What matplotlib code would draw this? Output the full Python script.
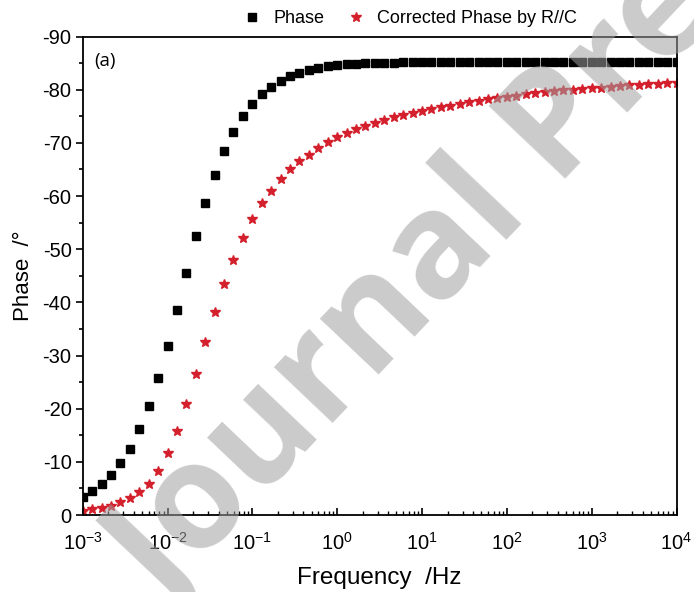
import numpy as np
import matplotlib
matplotlib.use("Agg")
import matplotlib.pyplot as plt
from matplotlib.ticker import MultipleLocator, LogLocator, NullFormatter

plt.rcParams['font.family'] = ['Liberation Sans', 'DejaVu Sans']
plt.rcParams['mathtext.default'] = 'regular'

# frequency points (Hz), about 9 per decade
freq = [1.00e-3, 1.29e-3, 1.67e-3, 2.15e-3, 2.78e-3, 3.59e-3, 4.64e-3, 5.99e-3, 7.74e-3,
        1.00e-2, 1.29e-2, 1.67e-2, 2.15e-2, 2.78e-2, 3.59e-2, 4.64e-2, 5.99e-2, 7.74e-2,
        1.00e-1, 1.29e-1, 1.67e-1, 2.15e-1, 2.78e-1, 3.59e-1, 4.64e-1, 5.99e-1, 7.74e-1,
        1.00e0, 1.29e0, 1.67e0, 2.15e0, 2.78e0, 3.59e0, 4.64e0, 5.99e0, 7.74e0,
        1.00e1, 1.29e1, 1.67e1, 2.15e1, 2.78e1, 3.59e1, 4.64e1, 5.99e1, 7.74e1,
        1.00e2, 1.29e2, 1.67e2, 2.15e2, 2.78e2, 3.59e2, 4.64e2, 5.99e2, 7.74e2,
        1.00e3, 1.29e3, 1.67e3, 2.15e3, 2.78e3, 3.59e3, 4.64e3, 5.99e3, 7.74e3,
        1.00e4]

# measured phase (deg)
phase = [-3.4, -4.6, -5.8, -7.5, -9.8, -12.5, -16.2, -20.5, -25.8,
         -31.8, -38.5, -45.5, -52.4, -58.6, -63.9, -68.5, -72.0, -75.0,
         -77.4, -79.2, -80.6, -81.7, -82.6, -83.2, -83.7, -84.1, -84.4,
         -84.7, -84.8, -84.9, -85.0, -85.05, -85.1, -85.1, -85.15, -85.2,
         -85.2, -85.2, -85.25, -85.25, -85.25, -85.3, -85.3, -85.3, -85.3,
         -85.3, -85.3, -85.3, -85.3, -85.3, -85.3, -85.3, -85.3, -85.3,
         -85.3, -85.3, -85.3, -85.3, -85.3, -85.3, -85.3, -85.3, -85.3,
         -85.3]

# phase corrected by R//C (deg)
phase_corr = [-0.75, -1.1, -1.4, -1.75, -2.4, -3.2, -4.3, -5.8, -8.3,
              -11.6, -15.8, -20.9, -26.6, -32.6, -38.2, -43.5, -48.0, -52.2,
              -55.6, -58.6, -60.9, -63.2, -65.1, -66.5, -67.8, -69.1, -70.1,
              -71.1, -71.9, -72.6, -73.2, -73.8, -74.3, -74.8, -75.2, -75.6,
              -76.0, -76.4, -76.7, -77.0, -77.3, -77.6, -77.9, -78.2, -78.4,
              -78.7, -78.9, -79.1, -79.3, -79.5, -79.7, -79.9, -80.0, -80.2,
              -80.3, -80.4, -80.55, -80.7, -80.8, -80.9, -81.0, -81.1, -81.2,
              -81.3]

fig = plt.figure(figsize=(6.94, 5.92), dpi=100)
ax = fig.add_axes([0.1192, 0.130, 0.8556, 0.8083])

ax.plot(freq, phase, 's', color='black', markersize=5.6, label='Phase')
ax.plot(freq, phase_corr, '*', color='#d4202c', markersize=7.5, label='Corrected Phase by R//C')

ax.set_xscale('log')
ax.set_xlim(1e-3, 1e4)
ax.set_ylim(0, -90)

ax.yaxis.set_minor_locator(MultipleLocator(5))
ax.set_yticks(np.arange(0, -91, -10))
ax.set_yticklabels([str(int(v)) for v in np.arange(0, -91, -10)])
ax.xaxis.set_major_locator(LogLocator(base=10, numticks=20))
ax.xaxis.set_minor_locator(LogLocator(base=10, subs=np.arange(2, 10), numticks=20))
ax.xaxis.set_minor_formatter(NullFormatter())

ax.tick_params(axis='y', which='major', direction='out', length=5, width=1.2, labelsize=14.5, pad=3)
ax.tick_params(axis='y', which='minor', direction='out', length=3, width=1.2)
ax.tick_params(axis='x', which='major', direction='in', length=5, width=1.2, labelsize=14.5, pad=12)
ax.tick_params(axis='x', which='minor', direction='in', length=3, width=1.0)
for s in ax.spines.values():
    s.set_linewidth(1.3)

ax.set_xlabel('Frequency  /Hz', fontsize=17.5, labelpad=10)
ax.set_ylabel('Phase  /°', fontsize=16, labelpad=6)

ax.text(0.02, 0.967, '(a)', transform=ax.transAxes, fontsize=13.5, va='top',
        family=['Open Sans', 'DejaVu Sans'])

ax.legend(loc='lower center', bbox_to_anchor=(0.55, 1.004), ncol=2, frameon=False,
          fontsize=13, handletextpad=0.6, columnspacing=1.1, borderaxespad=0.0,
          handlelength=1.2)

# watermark
fig.text(0.24, -0.03, 'Journal Pre-proof', fontsize=106, color='#a0a0a0', alpha=0.55,
         rotation=46.5, rotation_mode='anchor', ha='left', va='baseline',
         family=['Open Sans', 'DejaVu Sans'], weight='bold')

fig.savefig('out.png', dpi=100)
